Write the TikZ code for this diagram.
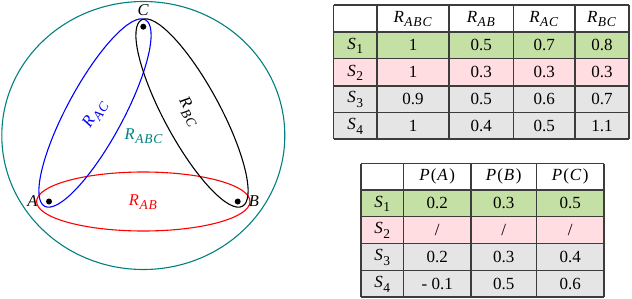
\documentclass[tikz,border=0pt]{standalone}
\usepackage{fontspec}
\setmainfont{Liberation Serif}
\newcommand{\subtxt}[1]{\raisebox{-0.28em}{\fontsize{13.5}{14}\selectfont\addfontfeatures{LetterSpace=6}\textit{#1}}}
\newcommand{\sym}[2]{\textit{#1}\kern0.5pt\subtxt{#2}}
\newcommand{\Sn}[1]{\textit{S}\kern0.5pt\raisebox{-0.28em}{\fontsize{13.5}{14}\selectfont #1}}
\newcommand{\Pof}[1]{\textit{P}\kern1.2pt(\kern0.8pt\textit{#1}\kern1.6pt)}
\definecolor{tealc}{RGB}{0,128,128}
\definecolor{rowgreen}{RGB}{197,224,165}
\definecolor{rowpink}{RGB}{255,221,224}
\definecolor{rowgray}{RGB}{229,229,229}
\definecolor{gridc}{RGB}{60,60,60}
\begin{document}
\begin{tikzpicture}[x=1pt,y=-1pt,
  every node/.style={font=\fontsize{17}{19}\selectfont, inner sep=0pt},
  lbl/.style={font=\fontsize{16.5}{19}\selectfont},
  dotnode/.style={circle, fill=black, minimum size=6pt, inner sep=0pt},
  gridline/.style={draw=gridc, line width=1.1pt},
  curve/.style={line width=1.1pt}]
\useasboundingbox (0,0) rectangle (632,298);

% ---------- left diagram ----------
\draw[curve, tealc] (143.3,135.5) ellipse [x radius=141.5, y radius=134];
\draw[curve, red] (143.3,201.5) ellipse [x radius=106.7, y radius=29.5];
\draw[curve, blue, rotate around={61.6:(95,113)}] (95,113) ellipse [x radius=106, y radius=28];
\draw[curve, black, rotate around={-61.6:(192,113)}] (192,113) ellipse [x radius=106, y radius=28];

\node[dotnode] (dC) at (143.3,26.7) {};
\node[dotnode] (dA) at (49,201.5) {};
\node[dotnode] (dB) at (237.7,201.5) {};
\node[lbl] (lC) at (143.3,10) {\textit{C}};
\node[lbl] (lA) at (32.5,201.5) {\textit{A}};
\node[lbl] (lB) at (254,201.5) {\textit{B}};

\node[lbl, blue, rotate=58] (rac) at (95.5,114) {\sym{R}{AC}};
\node[lbl, rotate=-60] (rbc) at (189,112) {\sym{R}{BC}};
\node[lbl, tealc] (rabc) at (144,136) {\sym{R}{ABC}};
\node[lbl, red] (rab) at (143.3,202) {\sym{R}{AB}};

% ---------- table 1 ----------
\fill[rowgreen] (333.5,32) rectangle (629,58.5);
\fill[rowpink] (333.5,58.5) rectangle (629,86);
\fill[rowgray] (333.5,86) rectangle (629,139);
\foreach \y in {5,32,58.5,86,112.5,139} \draw[gridline] (333.5,\y) -- (629,\y);
\foreach \x in {333.5,377,449,513.5,575,629} \draw[gridline] (\x,5) -- (\x,139);

\node (h11) at (413,19) {\sym{R}{ABC}};
\node (h12) at (481.25,19) {\sym{R}{AB}};
\node (h13) at (544.25,19) {\sym{R}{AC}};
\node (h14) at (602,19) {\sym{R}{BC}};

\node (s11) at (355.25,45.75) {\Sn{1}};
\node (s12) at (355.25,72.75) {\Sn{2}};
\node (s13) at (355.25,99.75) {\Sn{3}};
\node (s14) at (355.25,126.25) {\Sn{4}};

\node (a11) at (413,45.25) {1};
\node (a12) at (481.25,45.25) {0.5};
\node (a13) at (544.25,45.25) {0.7};
\node (a14) at (602,45.25) {0.8};
\node (a21) at (413,72.25) {1};
\node (a22) at (481.25,72.25) {0.3};
\node (a23) at (544.25,72.25) {0.3};
\node (a24) at (602,72.25) {0.3};
\node (a31) at (413,99.25) {0.9};
\node (a32) at (481.25,99.25) {0.5};
\node (a33) at (544.25,99.25) {0.6};
\node (a34) at (602,99.25) {0.7};
\node (a41) at (413,125.75) {1};
\node (a42) at (481.25,125.75) {0.4};
\node (a43) at (544.25,125.75) {0.5};
\node (a44) at (602,125.75) {1.1};

% ---------- table 2 ----------
\fill[rowgreen] (361,190) rectangle (604,216.5);
\fill[rowpink] (361,216.5) rectangle (604,243.5);
\fill[rowgray] (361,243.5) rectangle (604,297);
\foreach \y in {163.5,190,216.5,243.5,270.5,297} \draw[gridline] (361,\y) -- (604,\y);
\foreach \x in {361,403.5,471,536.5,604} \draw[gridline] (\x,163.5) -- (\x,297);

\node (p1) at (437.25,176.75) {\Pof{A}};
\node (p2) at (503.75,176.75) {\Pof{B}};
\node (p3) at (570.25,176.75) {\Pof{C}};

\node (t1) at (382.25,203.75) {\Sn{1}};
\node (t2) at (382.25,230.5) {\Sn{2}};
\node (t3) at (382.25,257.5) {\Sn{3}};
\node (t4) at (382.25,284.25) {\Sn{4}};

\node (b11) at (437.25,203.25) {0.2};
\node (b12) at (503.75,203.25) {0.3};
\node (b13) at (570.25,203.25) {0.5};
\node (b21) at (437.25,230) {/};
\node (b22) at (503.75,230) {/};
\node (b23) at (570.25,230) {/};
\node (b31) at (437.25,257) {0.2};
\node (b32) at (503.75,257) {0.3};
\node (b33) at (570.25,257) {0.4};
\node (b41) at (437.25,283.75) {- 0.1};
\node (b42) at (503.75,283.75) {0.5};
\node (b43) at (570.25,283.75) {0.6};
\end{tikzpicture}
\end{document}
